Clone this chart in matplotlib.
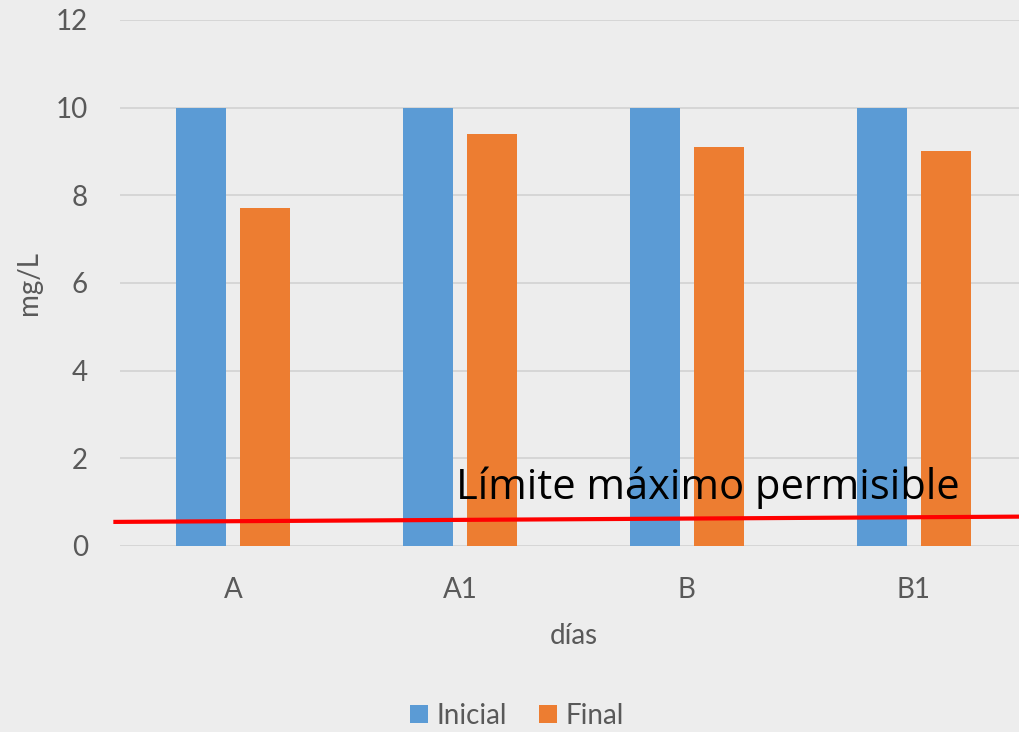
import matplotlib.pyplot as plt
import numpy as np

# muestras y concentraciones (mg/L)
categorias = ['A', 'A1', 'B', 'B1']
inicial = [10, 10, 10, 10]
final = [7.7, 9.4, 9.1, 9.0]

# línea del límite máximo permisible (trazada a mano, ligeramente inclinada)
limite_x = [-0.52, 3.47]
limite_y = [0.55, 0.67]

azul = '#5B9BD5'
naranja = '#ED7D31'
fondo = '#EDEDED'
gris = '#595959'

plt.rcParams['font.family'] = ['Lato', 'DejaVu Sans']

fig = plt.figure(figsize=(10.2, 7.32), dpi=100, facecolor=fondo)
ax = fig.add_axes([0.1176, 0.2541, 0.8893, 0.7186])
ax.set_facecolor(fondo)

x = np.arange(len(categorias))
ancho = 0.22
desp = 0.141
ax.bar(x - desp, inicial, ancho, color=azul, label='Inicial', zorder=2)
ax.bar(x + desp, final, ancho, color=naranja, label='Final', zorder=2)

ax.set_xlim(-0.5, 3.5)
ax.set_ylim(0, 12)
ax.set_yticks(range(0, 13, 2))
ax.set_xticks(x)
ax.set_xticklabels(categorias)
ax.grid(axis='y', color='#D6D6D6', linewidth=1.4, zorder=0)
ax.set_axisbelow(True)
for s in ax.spines.values():
    s.set_visible(False)
ax.tick_params(length=0, labelsize=20, colors=gris)
ax.tick_params(axis='y', pad=23)
ax.tick_params(axis='x', pad=22)

ax.set_ylabel('mg/L', fontsize=20, color=gris, labelpad=10)
ax.set_xlabel('días', fontsize=20, color=gris, labelpad=15)

ax.plot(limite_x, limite_y, color='#FF0000', linewidth=3, clip_on=False, zorder=3)
ax.text(0.98, 1.08, 'Límite máximo permisible', fontsize=30, color='black',
        family=['Open Sans', 'DejaVu Sans'], ha='left', va='baseline', zorder=4)

ax.legend(loc='center', bbox_to_anchor=(0.507, 0.022), bbox_transform=fig.transFigure,
          ncol=2, frameon=False, fontsize=20, labelcolor=gris,
          handlelength=0.65, handleheight=0.65, handletextpad=0.3, columnspacing=1.15)

fig.savefig('out.png', dpi=100, facecolor=fondo)
